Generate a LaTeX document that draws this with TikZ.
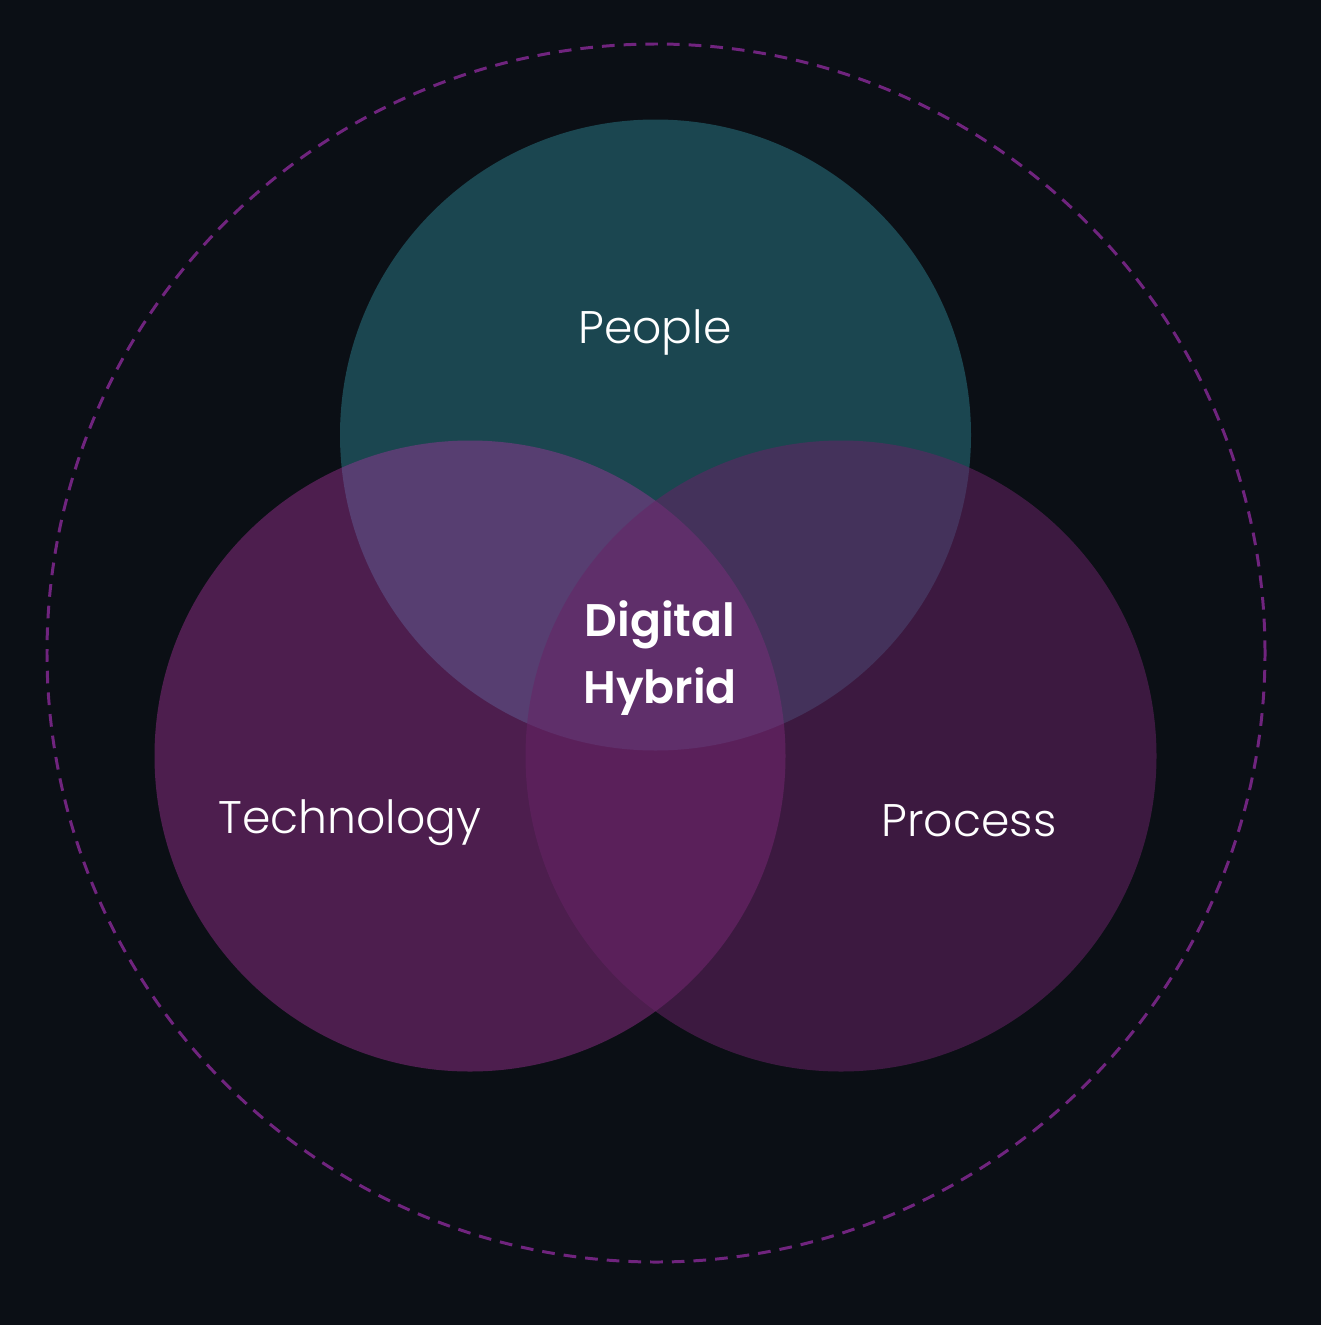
\documentclass[tikz,border=0pt]{standalone}
\usepackage{fontspec}
\setmainfont{Poppins}[UprightFont=* Light, BoldFont=* SemiBold]
\usetikzlibrary{positioning}
\definecolor{ink}{RGB}{11, 15, 21}
\definecolor{teal}{RGB}{27, 70, 80}
\definecolor{orchid}{RGB}{170, 51, 159}
\definecolor{plum}{RGB}{102, 35, 101}
\definecolor{ringline}{RGB}{112, 36, 126}

\begin{document}
\begin{tikzpicture}[
        setcircle/.style={circle, inner sep=0pt, minimum size=6.31cm},
        peoplecircle/.style={setcircle, fill=teal},
        techcircle/.style={setcircle, fill=orchid, fill opacity=0.42},
        processcircle/.style={setcircle, fill=plum, fill opacity=0.55},
        ring/.style={circle, draw=ringline, line width=0.85pt, dash pattern=on 0.127cm off 0.09cm, inner sep=0pt, minimum size=12.18cm},
        label/.style={text=white, font=\fontsize{13}{15}\selectfont},
        core/.style={text=white, align=center, font=\fontsize{13}{19.3}\selectfont\bfseries}
    ]
    % background
    \fill[ink] (0,0) rectangle (13.21,-13.25);
    \useasboundingbox (0,0) rectangle (13.21,-13.25);

    % outer ring
    \node[ring] (ring) at (6.56,-6.53) {};

    % the three sets
    \node[peoplecircle] (people) at (6.555,-4.35) {};
    \node[techcircle] (tech) at (4.70,-7.56) {};
    \node[processcircle] (process) at (8.41,-7.56) {};

    % labels
    \node[label] (peoplelbl) at (6.55,-3.32) {People};
    \node[label] (techlbl) at (3.50,-8.23) {Technology};
    \node[label] (processlbl) at (9.69,-8.21) {Process};
    \node[core] (hybrid) at (6.60,-6.58) {Digital\\Hybrid};
\end{tikzpicture}
\end{document}
